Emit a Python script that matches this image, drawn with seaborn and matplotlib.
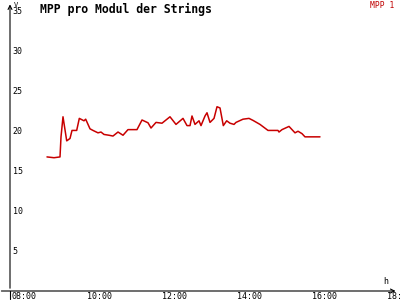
import matplotlib
matplotlib.use("Agg")
import matplotlib.pyplot as plt
import matplotlib.transforms as mtransforms
import seaborn as sns
import pandas as pd

hours = [8.853, 9.04, 9.2, 9.227, 9.28, 9.379, 9.467, 9.52, 9.645, 9.715, 9.84, 9.885,
         10.0, 10.08, 10.213, 10.293, 10.373, 10.507, 10.613, 10.747, 10.88, 11.013,
         11.253, 11.387, 11.547, 11.627, 11.76, 11.92, 12.133, 12.293, 12.48, 12.587,
         12.667, 12.72, 12.8, 12.907, 12.96, 13.067, 13.12, 13.2, 13.307, 13.387, 13.467,
         13.555, 13.645, 13.733, 13.84, 13.893, 14.08, 14.24, 14.347, 14.533, 14.747,
         15.013, 15.04, 15.12, 15.307, 15.467, 15.547, 15.653, 15.733, 16.133]
mpp1 = [16.7, 16.6, 16.7, 19.2, 21.7, 18.7, 19.0, 20.0, 20.0, 21.5, 21.2, 21.4,
        20.2, 20.0, 19.7, 19.8, 19.5, 19.4, 19.3, 19.8, 19.4, 20.1,
        20.1, 21.3, 20.95, 20.3, 21.0, 20.9, 21.7, 20.75, 21.5, 20.6,
        20.6, 21.8, 20.75, 21.2, 20.6, 21.8, 22.2, 21.0, 21.5, 22.95, 22.8,
        20.6, 21.2, 20.9, 20.75, 21.0, 21.4, 21.5, 21.25, 20.75, 20.0,
        20.0, 19.8, 20.1, 20.5, 19.7, 19.9, 19.6, 19.2, 19.2]
series_name = "MPP 1"
title = "MPP pro Modul der Strings"
x_ticks = [8, 10, 12, 14, 16, 18]
x_tick_labels = ["08:00", "10:00", "12:00", "14:00", "16:00", "18:00"]
y_ticks = [5, 10, 15, 20, 25, 30, 35]

df = pd.DataFrame({"t": hours, "v": mpp1})

sns.set_style("white")
plt.rcParams["font.family"] = ["DejaVu Sans Mono", "DejaVu Sans"]
plt.rcParams["text.color"] = "black"

fig = plt.figure(figsize=(4, 3), dpi=100)
ax = fig.add_axes([10 / 400, 9 / 300, 380 / 400, 281 / 300])
sns.lineplot(data=df, x="t", y="v", ax=ax, color="#c80000", linewidth=1.1)
ax.set_xlim(7.8667, 18)
ax.set_ylim(0, 35)
for s in ax.spines.values():
    s.set_visible(False)
ax.set_xlabel("")
ax.set_ylabel("")

ax.set_xticks(x_ticks)
ax.set_xticklabels(x_tick_labels)
ax.set_yticks(y_ticks)
ax.set_yticklabels([str(v) for v in y_ticks])
ax.tick_params(axis="both", direction="inout", length=6, width=0.8, color="black",
               labelsize=6, labelcolor="black")
ax.tick_params(axis="x", pad=-2.5)
ax.tick_params(axis="y", pad=-5)
for lab in ax.get_yticklabels():
    lab.set_ha("left")
off = mtransforms.ScaledTranslation(-3 / 100, 0, fig.dpi_scale_trans)
for lab in ax.get_xticklabels():
    lab.set_ha("left")
    lab.set_transform(lab.get_transform() + off)

# axes with arrows
ax.annotate("", xy=(0, 1.03), xytext=(0, 0), xycoords="axes fraction",
            arrowprops=dict(arrowstyle="->", lw=0.8, color="black", mutation_scale=7),
            annotation_clip=False)
ax.annotate("", xy=(1.022, 0), xytext=(-0.03, 0), xycoords="axes fraction",
            arrowprops=dict(arrowstyle="->", lw=0.8, color="black", mutation_scale=7),
            annotation_clip=False)
ax.plot([0.0, 0.0], [-0.03, 0], transform=ax.transAxes, color="black", lw=0.8, clip_on=False)

fig.text(14 / 400, 1 - 5 / 300, "V", fontsize=5, ha="left", va="center", color="black")
fig.text(386 / 400, 1 - 281 / 300, "h", fontsize=6, ha="center", va="center", color="black")
fig.text(40 / 400, 1 - 9 / 300, title, fontsize=8.3, fontweight="bold", ha="left",
         va="center", color="black")
fig.text(394 / 400, 1 - 5 / 300, series_name, fontsize=5.8, color="#c00000", ha="right", va="center")

fig.savefig("out.png", dpi=100, facecolor="white")
